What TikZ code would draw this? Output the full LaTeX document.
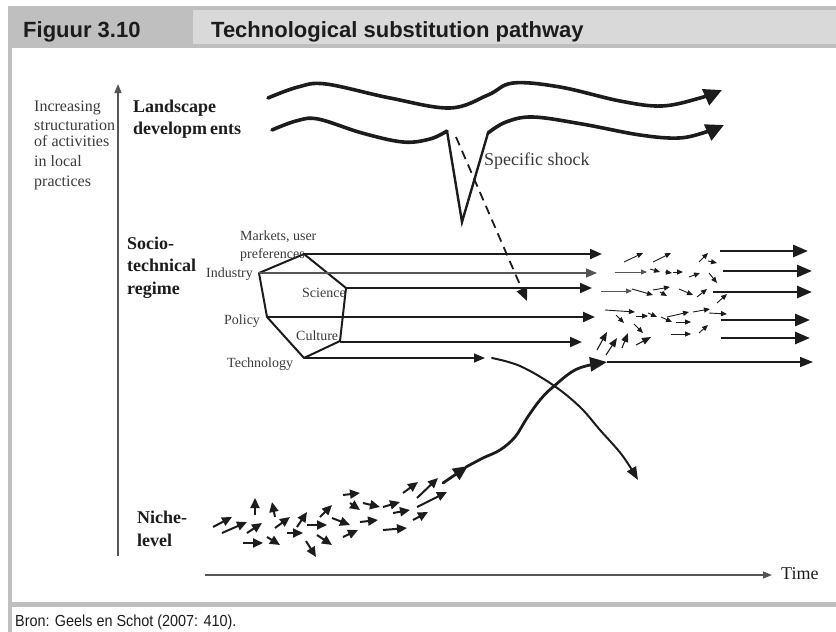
\documentclass[tikz,border=0pt]{standalone}
\usepackage{fontspec}
\setmainfont{Liberation Serif}
\setsansfont{Liberation Sans}
\newfontfamily\capfont[FakeStretch=0.9]{Liberation Sans}
\usetikzlibrary{arrows.meta}
\definecolor{bandgray}{HTML}{BFBFBF}
\definecolor{headgray}{HTML}{D9D9D9}
\definecolor{ink}{HTML}{1C1C1C}
\definecolor{labelgray}{HTML}{3A3A3A}
\definecolor{axisgray}{HTML}{555555}
\tikzset{
  headtxt/.style={anchor=base west, inner sep=0pt, text=ink, font=\sffamily\bfseries\fontsize{22}{24}\selectfont},
  sidetxt/.style={anchor=base west, inner sep=0pt, text=labelgray, font=\fontsize{16}{19}\selectfont},
  leveltxt/.style={anchor=base west, inner sep=0pt, text=ink, font=\bfseries\fontsize{18}{22}\selectfont},
  factor/.style={anchor=base west, inner sep=0pt, text=labelgray, font=\fontsize{14}{16}\selectfont},
  axis/.style={line width=1.3pt, axisgray, -{Triangle[length=9pt,width=7pt]}},
  wave/.style={line width=3.6pt, ink, line cap=round, line join=round, -{Triangle[length=18pt,width=17pt]}},
  shockline/.style={line width=2.4pt, ink, line join=miter},
  hexa/.style={line width=2pt, ink, line join=round},
  regime/.style={line width=2.1pt, ink, -{Triangle[length=12pt,width=10pt]}},
  regimethin/.style={line width=1.3pt, axisgray, -{Triangle[length=11pt,width=9pt]}},
  newregime/.style={line width=2.8pt, ink, -{Triangle[length=15pt,width=12pt]}},
  smallarr/.style={line width=0.9pt, ink, -{Triangle[length=6pt,width=5pt]}},
  smallgray/.style={line width=0.9pt, axisgray, -{Triangle[length=6pt,width=5pt]}},
  midarr/.style={line width=1.1pt, ink, -{Triangle[length=9pt,width=7pt]}},
  nichearr/.style={line width=2pt, ink, -{Triangle[length=10pt,width=9pt]}},
  trajectory/.style={line width=2.8pt, ink, line cap=round, line join=round},
}
\begin{document}
\begin{tikzpicture}[x=1pt,y=-1pt]
\useasboundingbox (0,0) rectangle (836,632);

% frame, title band and caption rule
\fill[bandgray] (8,6) rectangle (836,48);
\fill[headgray] (193,10) rectangle (836,44);
\fill[bandgray] (8,48) rectangle (12,632);
\fill[bandgray] (8,602) rectangle (836,607);
\node[headtxt] (figno) at (23,37) {Figuur 3.10};
\node[headtxt] (figtitle) at (211,37) {Technological substitution pathway};
\node[anchor=base west, inner sep=0pt, text=ink, font=\capfont\fontsize{16}{18}\selectfont] (source) at (15,626) {Bron: Geels en Schot (2007: 410).};

% axes
\coordinate (vbot) at (118,556);
\coordinate (vtop) at (118,84);
\draw[axis] (vbot) -- (vtop);
\coordinate (hleft) at (205,575);
\coordinate (hright) at (772,575);
\draw[axis] (hleft) -- (hright);
\node[anchor=base west, inner sep=0pt, text=ink, font=\fontsize{18}{20}\selectfont] (timelbl) at (781,579) {Time};

% vertical axis description
\node[sidetxt] (inc1) at (34,111) {Increasing};
\node[sidetxt] (inc2) at (34,130.5) {structuration};
\node[sidetxt] (inc3) at (34,146) {of activities};
\node[sidetxt] (inc4) at (34,166) {in local};
\node[sidetxt] (inc5) at (34,186) {practices};

% level names
\node[leveltxt] (land1) at (133,112) {Landscape};
\node[leveltxt] (land2) at (133,134) {developm\,ents};
\node[leveltxt] (soc1) at (127,249) {Socio-};
\node[leveltxt] (soc2) at (127,271) {technical};
\node[leveltxt] (soc3) at (127,294) {regime};
\node[leveltxt] (nic1) at (137,523) {Niche-};
\node[leveltxt] (nic2) at (137,546) {level};

% landscape developments
\draw[wave] plot[smooth, tension=0.6] coordinates {(268,98) (298,87) (326,84) (390,98) (450,108) (488,95) (513,83) (560,87) (620,101) (662,106) (700,98) (722,90)};
\draw[trajectory, line width=3.6pt] plot[smooth, tension=0.6] coordinates {(272,130) (296,121) (318,119) (362,133) (403,142) (430,139) (447,131)};
\coordinate (shockA) at (447,131);
\coordinate (shockB) at (462,222);
\coordinate (shockC) at (488,133);
\draw[shockline] (shockA) -- (shockB) -- (shockC);
\draw[wave] plot[smooth, tension=0.6] coordinates {(488,133) (506,122) (533,117) (582,124) (640,135) (679,138) (706,132) (724,125)};
\node[anchor=base west, inner sep=0pt, text=labelgray, font=\fontsize{18}{20}\selectfont] (shock) at (484,165) {Specific shock};

% shock pressure on the regime
\coordinate (dashA) at (456,137);
\coordinate (dashB) at (527,301);
\draw[line width=1.8pt, ink, dash pattern=on 9pt off 6pt, -{Triangle[length=13pt,width=11pt]}] (dashA) -- (dashB);

% regime hexagon
\coordinate (vM) at (304,254);
\coordinate (vI) at (259,273);
\coordinate (vP) at (267,317);
\coordinate (vT) at (304,358);
\coordinate (vC) at (340,341);
\coordinate (vS) at (346,288);
\draw[hexa] (vM) -- (vS) -- (vC) -- (vT) -- (vP) -- (vI) -- cycle;

\node[factor] (fM1) at (240,240) {Markets, user};
\node[factor] (fM2) at (240,258) {preferences};
\node[factor] (fI) at (206,277) {Industry};
\node[factor] (fS) at (302,297) {Science};
\node[factor] (fP) at (224,324) {Policy};
\node[factor] (fC) at (296,340.5) {Culture};
\node[factor] (fT) at (227,367) {Technology};

% regime trajectories
\coordinate (eM) at (602,254);
\coordinate (eI) at (597,273);
\coordinate (eS) at (592,288);
\coordinate (eP) at (595,317);
\coordinate (eC) at (582,342);
\coordinate (eT) at (485,358);
\draw[regime] (vM) -- (eM);
\draw[regimethin] (vI) -- (eI);
\draw[regime] (vS) -- (eS);
\draw[regime] (vP) -- (eP);
\draw[regime] (vC |- eC) -- (eC);
\draw[line width=1.5pt, ink, -{Triangle[length=11pt,width=9pt]}] (vT) -- (eT);

% new regime
\coordinate (n1a) at (720,251); \coordinate (n1b) at (808,251);
\coordinate (n2a) at (723,271); \coordinate (n2b) at (812,271);
\coordinate (n3a) at (713,292); \coordinate (n3b) at (812,292);
\coordinate (n4a) at (721,320); \coordinate (n4b) at (810,320);
\coordinate (n5a) at (721,338); \coordinate (n5b) at (810,338);
\draw[newregime] (n1a) -- (n1b);
\draw[newregime] (n2a) -- (n2b);
\draw[newregime] (n3a) -- (n3b);
\draw[newregime] (n4a) -- (n4b);
\draw[newregime] (n5a) -- (n5b);
\coordinate (nicheTop) at (607,362);
\coordinate (n6b) at (813,362);
\draw[line width=1.6pt, ink, -{Triangle[length=13pt,width=10pt]}] (nicheTop) -- (n6b);

% regime reconfiguration: many small arrows
\foreach \ax/\ay/\bx/\by in {624/262/643/253, 653/262/671/253, 699/262/708/253, 708/261/717/263,
  650/269/660/272, 665/272/672/273, 673/272/683/272, 689/277/700/273, 709/273/717/283,
  632/289/653/295, 653/290/670/287, 660/292/667/296, 679/289/693/295, 697/297/707/289, 717/303/727/294,
  605/310/635/312, 616/315/624/323, 636/316/648/316, 648/313/657/317, 661/317/672/322, 667/317/689/312,
  693/312/710/309, 709/313/727/314, 676/322/691/322, 634/324/643/333, 671/334/691/334, 699/333/708/325}
  \draw[smallarr] (\ax,\ay) -- (\bx,\by);
\draw[smallgray] (615,272) -- (647,272);
\draw[smallgray] (601,291) -- (632,291);
\foreach \ax/\ay/\bx/\by in {636/345/651/337, 597/350/607/332, 606/355/617/338, 622/348/628/333}
  \draw[midarr] (\ax,\ay) -- (\bx,\by);

% declining technology
\coordinate (oldA) at (492,358);
\coordinate (oldB) at (638,480);
\draw[line width=2pt, ink, line cap=round, -{Triangle[length=13pt,width=10pt]}] plot[smooth, tension=0.6] coordinates {(492,358) (520,366) (553,385) (580,407) (600,430) (622,455) (638,480)};

% niche trajectory breaking through
\coordinate (nicheA) at (443,483);
\coordinate (nicheMid) at (468,466);
\draw[trajectory, -{Triangle[length=15pt,width=13pt]}] (nicheA) -- (nicheMid);
\draw[trajectory, -{Triangle[length=17pt,width=14pt]}] plot[smooth, tension=0.6] coordinates {(466,467) (483,458) (500,450) (515,437) (527,418) (540,400) (553,387) (577,369) (607,362)};

% niche-level experiments
\foreach \ax/\ay/\bx/\by in {213/527/232/517, 222/533/247/522, 247/533/262/523, 255/515/255/498, 275/517/272/502,
  275/528/290/517, 297/527/307/512, 287/533/303/533, 243/543/263/543, 267/537/280/545, 307/525/327/525,
  320/517/332/505, 317/535/332/545, 306/541/316/557, 332/518/350/525, 343/495/360/493, 350/503/360/510,
  360/522/378/520, 343/537/358/530, 363/503/380/507, 383/507/400/502, 383/530/407/528, 393/513/410/510,
  403/493/418/482, 417/498/438/478, 417/507/447/492, 413/520/428/512}
  \draw[nichearr] (\ax,\ay) -- (\bx,\by);
\end{tikzpicture}
\end{document}
